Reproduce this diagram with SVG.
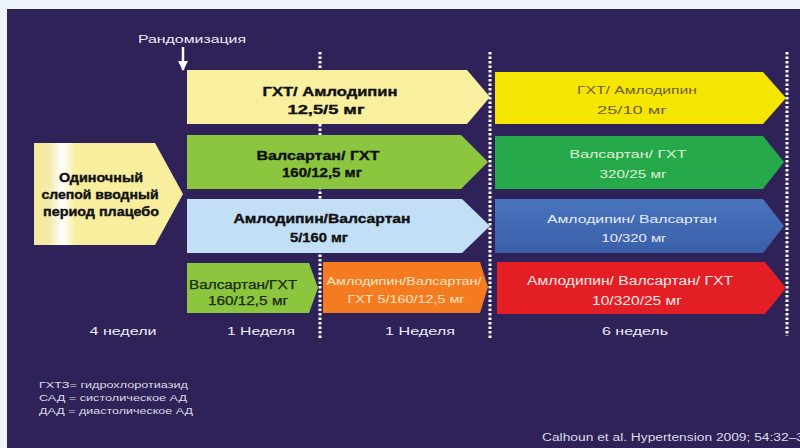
<svg xmlns="http://www.w3.org/2000/svg" width="800" height="448" viewBox="0 0 800 448">
<style>
.t{font-family:"Liberation Sans",Arial,sans-serif;text-anchor:middle}
.b{font-weight:bold;fill:#111;stroke:#111;stroke-width:0.35}
.w{fill:#ecebf5}
.dot{stroke:#ffffff;stroke-width:3;stroke-dasharray:2.5 2;fill:none}
</style>
<defs>
<linearGradient id="plac" x1="0" y1="0" x2="1" y2="0">
<stop offset="0" stop-color="#f6ea9a"/>
<stop offset="0.1" stop-color="#f4eaa8"/>
<stop offset="0.19" stop-color="#ffffff"/>
<stop offset="0.28" stop-color="#f8ee9e"/>
<stop offset="1" stop-color="#f8ee9e"/>
</linearGradient>
<linearGradient id="blue" x1="0" y1="0" x2="0" y2="1">
<stop offset="0" stop-color="#4874be"/>
<stop offset="1" stop-color="#3a5fa8"/>
</linearGradient>
<marker id="ah" viewBox="0 0 10 10" refX="9" refY="5" markerWidth="4" markerHeight="4" orient="auto">
<path d="M0,0 L10,5 L0,10 z" fill="#ffffff"/>
</marker>
</defs>
<rect x="0" y="0" width="800" height="448" fill="#eef4fb"/>
<rect x="7" y="9" width="793" height="439" fill="#2e2258"/>

<g id="connectors">
<line class="dot" x1="320" y1="52" x2="320" y2="338"/>
<line class="dot" x1="490" y1="52" x2="490" y2="338"/>
<line class="dot" x1="787" y1="52" x2="787" y2="336"/>
<line x1="183" y1="47" x2="183" y2="70" stroke="#ffffff" stroke-width="2.5" marker-end="url(#ah)"/>
</g>

<g id="randomization">
<text class="t w" x="192" y="43" font-size="11" textLength="108" lengthAdjust="spacingAndGlyphs">Рандомизация</text>
</g>

<g id="placebo">
<polygon points="34,143 155,143 183,194 155,245 34,245" fill="url(#plac)"/>
<text class="t b" x="101" y="182" font-size="12" textLength="84" lengthAdjust="spacingAndGlyphs">Одиночный</text>
<text class="t b" x="100" y="199" font-size="12" textLength="117" lengthAdjust="spacingAndGlyphs">слепой вводный</text>
<text class="t b" x="101" y="216" font-size="12" textLength="116" lengthAdjust="spacingAndGlyphs">период плацебо</text>
</g>

<g id="r1-left">
<polygon points="187,70 467,70 490,97 467,124 187,124" fill="#f8ef9f"/>
<text class="t b" x="330" y="96" font-size="12.5" textLength="135" lengthAdjust="spacingAndGlyphs">ГХТ/ Амлодипин</text>
<text class="t b" x="326" y="114" font-size="12.5" textLength="77" lengthAdjust="spacingAndGlyphs">12,5/5 мг</text>
</g>

<g id="r2-left">
<polygon points="187,135 461,135 488,162 461,189 187,189" fill="#8cc63f"/>
<text class="t b" x="318" y="160" font-size="12.5" textLength="123" lengthAdjust="spacingAndGlyphs">Валсартан/ ГХТ</text>
<text class="t b" x="322" y="177" font-size="12.5" textLength="80" lengthAdjust="spacingAndGlyphs">160/12,5 мг</text>
</g>

<g id="r3-left">
<polygon points="187,199 462,199 490,226 462,253 187,253" fill="#c2dff5"/>
<text class="t b" x="322" y="223" font-size="12.5" textLength="177" lengthAdjust="spacingAndGlyphs">Амлодипин/Валсартан</text>
<text class="t b" x="319" y="242" font-size="12.5" textLength="58" lengthAdjust="spacingAndGlyphs">5/160 мг</text>
</g>

<g id="r4-left">
<polygon points="187,263 309,263 318,288 309,313 187,313" fill="#8cc63f"/>
<text class="t" x="243" y="289" font-size="12" fill="#1a2a10" stroke="#1a2a10" stroke-width="0.25" textLength="108" lengthAdjust="spacingAndGlyphs">Валсартан/ГХТ</text>
<text class="t" x="248" y="305" font-size="12" fill="#1a2a10" stroke="#1a2a10" stroke-width="0.25" textLength="80" lengthAdjust="spacingAndGlyphs">160/12,5 мг</text>
</g>

<g id="r4-mid">
<polygon points="323,262 480,262 488,287 480,313 323,313" fill="#f47b20"/>
<text class="t" x="404" y="285" font-size="10" fill="#fde6c8" textLength="155" lengthAdjust="spacingAndGlyphs">Амлодипин/Валсартан/</text>
<text class="t" x="406" y="303" font-size="10" fill="#fde6c8" textLength="117" lengthAdjust="spacingAndGlyphs">ГХТ 5/160/12,5 мг</text>
</g>

<g id="r1-right">
<polygon points="495,72 763,72 786,98 763,124 495,124" fill="#f5e600"/>
<text class="t" x="637" y="94" font-size="11" fill="#6e6035" textLength="120" lengthAdjust="spacingAndGlyphs">ГХТ/ Амлодипин</text>
<text class="t" x="632" y="114" font-size="11" fill="#6e6035" textLength="70" lengthAdjust="spacingAndGlyphs">25/10 мг</text>
</g>

<g id="r2-right">
<polygon points="495,136 763,136 784,162 763,189 495,189" fill="#25a94a"/>
<text class="t" x="628" y="158" font-size="11" fill="#dff3d4" textLength="117" lengthAdjust="spacingAndGlyphs">Валсартан/ ГХТ</text>
<text class="t" x="633" y="178" font-size="11" fill="#dff3d4" textLength="67" lengthAdjust="spacingAndGlyphs">320/25 мг</text>
</g>

<g id="r3-right">
<polygon points="495,199 763,199 784,226 763,253 495,253" fill="url(#blue)"/>
<text class="t" x="632" y="223" font-size="11" fill="#e6ecf8" textLength="170" lengthAdjust="spacingAndGlyphs">Амлодипин/ Валсартан</text>
<text class="t" x="634" y="242" font-size="11" fill="#e6ecf8" textLength="65" lengthAdjust="spacingAndGlyphs">10/320 мг</text>
</g>

<g id="r4-right">
<polygon points="497,262 765,262 786,288 765,314 497,314" fill="#e31e24"/>
<text class="t" x="630" y="285" font-size="12" fill="#fde8e4" textLength="206" lengthAdjust="spacingAndGlyphs">Амлодипин/ Валсартан/ ГХТ</text>
<text class="t" x="637" y="305" font-size="12" fill="#fde8e4" textLength="90" lengthAdjust="spacingAndGlyphs">10/320/25 мг</text>
</g>

<g id="durations">
<text class="t w" x="123" y="335" font-size="11" textLength="67" lengthAdjust="spacingAndGlyphs">4 недели</text>
<text class="t w" x="261" y="335" font-size="11" textLength="68" lengthAdjust="spacingAndGlyphs">1 Неделя</text>
<text class="t w" x="420" y="335" font-size="11" textLength="70" lengthAdjust="spacingAndGlyphs">1 Неделя</text>
<text class="t w" x="635" y="335" font-size="11" textLength="66" lengthAdjust="spacingAndGlyphs">6 недель</text>
</g>

<g id="notes" font-family="'Liberation Sans',Arial,sans-serif" font-size="8.5" fill="#dcdbe8">
<text x="39" y="388" textLength="149" lengthAdjust="spacingAndGlyphs">ГХТЗ= гидрохлоротиазид</text>
<text x="39" y="401" textLength="148" lengthAdjust="spacingAndGlyphs">САД = систолическое АД</text>
<text x="39" y="414" textLength="154" lengthAdjust="spacingAndGlyphs">ДАД = диастолическое АД</text>
<text x="542" y="441" font-size="10" textLength="262" lengthAdjust="spacingAndGlyphs">Calhoun et al. Hypertension 2009; 54:32–3</text>
</g>
</svg>
